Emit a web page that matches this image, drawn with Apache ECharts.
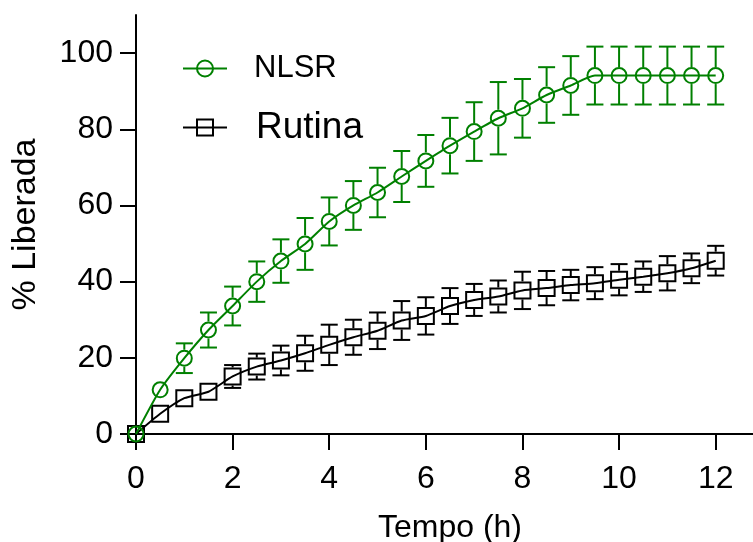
<!DOCTYPE html>
<html>
<head>
<meta charset="utf-8">
<script src="https://cdn.jsdelivr.net/npm/echarts@6/dist/echarts.min.js"></script>
<style>
  html, body { margin: 0; padding: 0; background: #fff; }
  #chart { width: 753px; height: 542px; }
</style>
</head>
<body>
<div id="chart"></div>
<script>
// Release profile: mean and SD at each sampling time (h)
const time = [0, 0.5, 1, 1.5, 2, 2.5, 3, 3.5, 4, 4.5, 5, 5.5, 6, 6.5, 7, 7.5, 8, 8.5, 9, 9.5, 10, 10.5, 11, 11.5, 12];
const nlsrMean = [0, 11.6, 19.9, 27.3, 33.6, 40.0, 45.4, 49.9, 55.8, 60.0, 63.4, 67.6, 71.7, 75.7, 79.4, 82.9, 85.5, 89.0, 91.5, 94.1, 94.1, 94.1, 94.1, 94.1, 94.1];
const nlsrSd = [0, 1.0, 3.9, 4.6, 5.1, 5.3, 5.7, 6.8, 6.3, 6.4, 6.5, 6.7, 6.8, 7.3, 7.7, 9.5, 7.7, 7.3, 7.7, 7.6, 7.6, 7.6, 7.6, 7.6, 7.6];
const rutinaMean = [0, 5.3, 9.4, 11.1, 15.1, 17.7, 19.3, 21.2, 23.4, 25.4, 27.1, 29.8, 31.0, 33.6, 35.2, 36.1, 37.7, 38.3, 39.1, 39.6, 40.5, 41.3, 42.2, 43.5, 45.5];
const rutinaSd = [0, 1.0, 1.2, 1.5, 3.0, 3.4, 3.9, 4.6, 5.3, 4.6, 4.8, 5.1, 4.9, 4.7, 4.2, 4.2, 4.9, 4.5, 4.0, 4.2, 4.1, 4.0, 4.5, 3.9, 3.9];

const xTicks = [0, 2, 4, 6, 8, 10, 12];
const yTicks = [0, 20, 40, 60, 80, 100];

const GREEN = '#008000';
const BLACK = '#000000';
const FONT = '"Liberation Sans", Arial, sans-serif';

// Error bars drawn from the symbol edge out to mean ± SD, with caps
function errorBars(means, sds, color, halfSymbol, z) {
  return {
    type: 'custom',
    silent: true,
    z: z,
    data: time.map((t, i) => [t, means[i], sds[i]]),
    encode: { x: 0, y: 1 },
    renderItem: function (params, api) {
      const x = api.value(0), m = api.value(1), s = api.value(2);
      const c = api.coord([x, m]);
      const top = api.coord([x, m + s])[1];
      const bot = api.coord([x, m - s])[1];
      const cap = 8.5;
      const st = { stroke: color, lineWidth: 2 };
      const children = [];
      if (c[1] - top > halfSymbol) {
        children.push({ type: 'line', shape: { x1: c[0], y1: c[1] - halfSymbol, x2: c[0], y2: top }, style: st });
        children.push({ type: 'line', shape: { x1: c[0] - cap, y1: top, x2: c[0] + cap, y2: top }, style: st });
      }
      if (bot - c[1] > halfSymbol) {
        children.push({ type: 'line', shape: { x1: c[0], y1: c[1] + halfSymbol, x2: c[0], y2: bot }, style: st });
        children.push({ type: 'line', shape: { x1: c[0] - cap, y1: bot, x2: c[0] + cap, y2: bot }, style: st });
      }
      return { type: 'group', children: children };
    }
  };
}

function legendFor(name, size, lh, top, pad) {
  return {
    data: [name],
    left: 182,
    top: top,
    padding: 0,
    itemWidth: 44,
    itemHeight: 20,
    selectedMode: false,
    formatter: '{t|{name}}',
    textStyle: {
      rich: {
        t: { fontSize: size, lineHeight: lh, fontFamily: FONT, color: '#000', padding: [0, 0, 0, pad] }
      }
    }
  };
}

const chart = echarts.init(document.getElementById('chart'), null, { renderer: 'canvas' });

chart.setOption({
  animation: false,
  backgroundColor: '#fff',
  // the time axis runs on past the right edge of the page
  grid: { left: 136, right: -11, top: 15, bottom: 108, containLabel: false, outerBoundsMode: 'none' },
  legend: [
    legendFor('NLSR', 31, 34, 53, 22),
    legendFor('Rutina', 37, 40, 109, 24)
  ],
  xAxis: {
    type: 'value',
    min: 0,
    max: 13,
    interval: 2,
    name: 'Tempo (h)',
    nameLocation: 'middle',
    nameGap: 78,
    nameTextStyle: { fontSize: 32, fontFamily: FONT, color: '#000' },
    axisLine: { lineStyle: { color: BLACK, width: 2 } },
    axisTick: { show: true, length: 16, lineStyle: { color: BLACK, width: 2 }, customValues: xTicks },
    axisLabel: { fontSize: 32, fontFamily: FONT, color: '#000', margin: 29, customValues: xTicks },
    splitLine: { show: false }
  },
  yAxis: {
    type: 'value',
    min: 0,
    max: 110,
    interval: 20,
    name: '% Liberada',
    nameLocation: 'middle',
    nameGap: 93,
    nameRotate: 90,
    nameTextStyle: { fontSize: 34, fontFamily: FONT, color: '#000' },
    axisLine: { show: true, lineStyle: { color: BLACK, width: 2 } },
    axisTick: { show: true, length: 16, lineStyle: { color: BLACK, width: 2 }, customValues: yTicks },
    axisLabel: { fontSize: 32, fontFamily: FONT, color: '#000', margin: 23, customValues: yTicks },
    splitLine: { show: false }
  },
  series: [
    errorBars(rutinaMean, rutinaSd, BLACK, 9, 2),
    {
      name: 'Rutina',
      type: 'line',
      z: 3,
      data: time.map((t, i) => [t, rutinaMean[i]]),
      smooth: 0.2,
      symbol: 'rect',
      symbolSize: 16,
      showAllSymbol: true,
      lineStyle: { color: BLACK, width: 2 },
      itemStyle: { color: 'rgba(0,0,0,0)', borderColor: BLACK, borderWidth: 2 }
    },
    errorBars(nlsrMean, nlsrSd, GREEN, 8.5, 4),
    {
      name: 'NLSR',
      type: 'line',
      z: 5,
      data: time.map((t, i) => [t, nlsrMean[i]]),
      smooth: 0.2,
      symbol: 'circle',
      symbolSize: 15,
      showAllSymbol: true,
      lineStyle: { color: GREEN, width: 2 },
      itemStyle: { color: 'rgba(0,0,0,0)', borderColor: GREEN, borderWidth: 2 }
    }
  ]
});
</script>
</body>
</html>
